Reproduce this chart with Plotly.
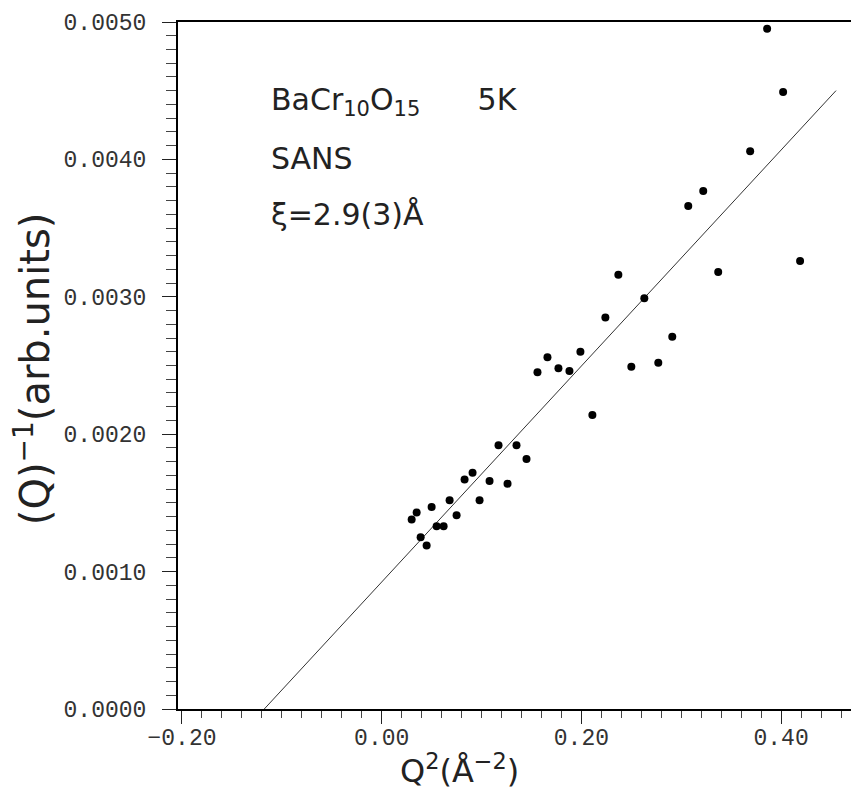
import plotly.graph_objects as go
import numpy as np

# Q^2 (A^-2) and inverse intensity
q2 = [0.030, 0.035, 0.039, 0.045, 0.050, 0.055, 0.062, 0.068, 0.075, 0.083,
      0.091, 0.098, 0.108, 0.117, 0.126, 0.135, 0.145, 0.156, 0.166, 0.177,
      0.188, 0.199, 0.211, 0.224, 0.237, 0.250, 0.263, 0.277, 0.291, 0.307,
      0.322, 0.337, 0.369, 0.386, 0.402, 0.419]
inv_i = [0.00138, 0.00143, 0.00125, 0.00119, 0.00147, 0.00133, 0.00133, 0.00152, 0.00141, 0.00167,
         0.00172, 0.00152, 0.00166, 0.00192, 0.00164, 0.00192, 0.00182, 0.00245, 0.00256, 0.00248,
         0.00246, 0.00260, 0.00214, 0.00285, 0.00316, 0.00249, 0.00299, 0.00252, 0.00271, 0.00366,
         0.00377, 0.00318, 0.00406, 0.00495, 0.00449, 0.00326]

# linear fit  I^-1 = slope * (Q^2 + q0)
fit_slope = 0.00786
fit_q0 = 0.1176
fit_range = [-0.1176, 0.455]

fit_x = np.array(fit_range)
fit_y = fit_slope * (fit_x + fit_q0)

TICKFONT = dict(family="Liberation Mono", size=23, color="#333")
LABELFONT = "DejaVu Sans"

fig = go.Figure()

fig.add_trace(go.Scatter(
    x=fit_x, y=fit_y,
    mode="lines",
    line=dict(color="#333", width=1),
    hoverinfo="skip",
))

fig.add_trace(go.Scatter(
    x=q2, y=inv_i,
    mode="markers",
    marker=dict(color="black", size=8, line=dict(width=0)),
))

fig.update_xaxes(
    range=[-0.204, 0.478],
    tick0=-0.2, dtick=0.2,
    tickformat=".2f",
    ticks="outside", ticklen=13, tickwidth=1, tickcolor="#222",
    minor=dict(dtick=0.02, ticks="outside", ticklen=7, tickwidth=1, tickcolor="#444"),
    showline=True, linecolor="black", linewidth=2, mirror=True,
    showgrid=False, zeroline=False,
    tickfont=TICKFONT,
    ticklabelstandoff=-7,
)

fig.update_yaxes(
    range=[0, 0.005],
    tick0=0, dtick=0.001,
    tickformat=".4f",
    ticks="outside", ticklen=14, tickwidth=1, tickcolor="#222",
    minor=dict(dtick=0.0001, ticks="outside", ticklen=10, tickwidth=1, tickcolor="#444"),
    showline=True, linecolor="black", linewidth=2,
    showgrid=False, zeroline=False,
    tickfont=TICKFONT,
    ticklabelstandoff=11,
)

# axis titles as annotations to match placement
fig.add_annotation(
    text="Q<sup>2</sup>(Å<sup>−2</sup>)",
    xref="paper", yref="paper", x=0.414, y=-0.087,
    xanchor="center", yanchor="middle",
    showarrow=False, font=dict(family=LABELFONT, size=32, color="#222"),
)
fig.add_annotation(
    text="(Q)<sup>−1</sup>(arb.units)",
    xref="paper", yref="paper", x=-0.213, y=0.496,
    xanchor="center", yanchor="middle", textangle=-90,
    showarrow=False, font=dict(family=LABELFONT, size=40, color="#222"),
)

# sample labels
labels = ["BaCr<sub>10</sub>O<sub>15</sub>&nbsp;&nbsp;&nbsp;&nbsp;&nbsp;&nbsp;5K", "SANS", "ξ=2.9(3)Å"]
label_y = [0.00442, 0.00401, 0.00360]
for txt, yy in zip(labels, label_y):
    fig.add_annotation(
        text=txt, x=-0.113, y=yy,
        xanchor="left", yanchor="middle",
        showarrow=False, font=dict(family=LABELFONT, size=30, color="#222"),
    )

# the page body adds an 8px offset, so the figure is drawn 8px smaller
fig.update_layout(
    width=851, height=783,
    margin=dict(l=170, r=0, t=14, b=82),
    plot_bgcolor="white", paper_bgcolor="white",
    showlegend=False,
)

fig.write_html("out.html")
